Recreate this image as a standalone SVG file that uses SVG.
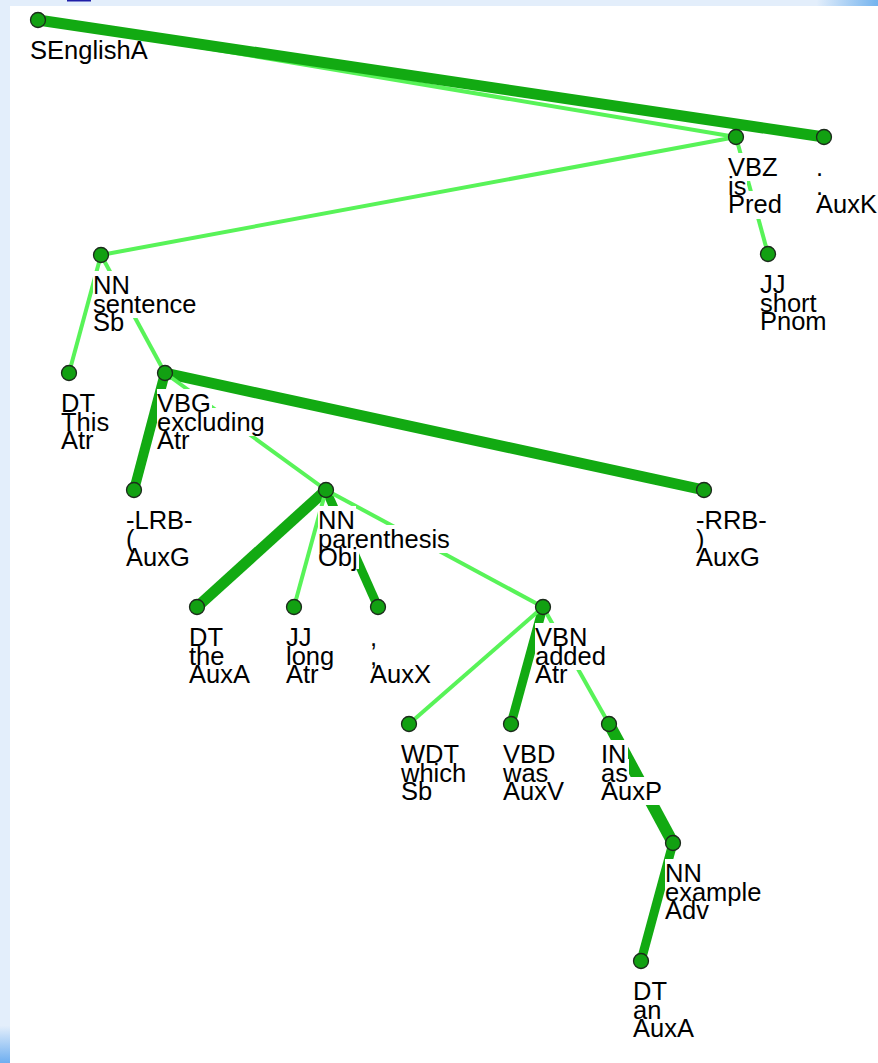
<svg xmlns="http://www.w3.org/2000/svg" width="878" height="1063" viewBox="0 0 878 1063">
  <defs>
    <linearGradient id="topFade" x1="0" y1="0" x2="1" y2="0">
      <stop offset="0" stop-color="#e3eefb"/>
      <stop offset="0.93" stop-color="#e3eefb"/>
      <stop offset="1" stop-color="#74b3ee"/>
    </linearGradient>
    <linearGradient id="leftFade" x1="0" y1="0" x2="0" y2="1">
      <stop offset="0" stop-color="#e3eefb"/>
      <stop offset="0.965" stop-color="#e3eefb"/>
      <stop offset="1" stop-color="#6eaef0"/>
    </linearGradient>
    <style>
      .light { stroke: #58f358; stroke-width: 4; fill: none; }
      .dark { stroke: #12aa12; fill: none; }
      .node circle { fill: #12a012; stroke: #1c2a1c; stroke-width: 1.3; }
      .node rect { fill: #ffffff; }
      .node text { font-family: "Liberation Sans", Arial, sans-serif; font-size: 25.5px; fill: #000000; }
    </style>
  </defs>

  <!-- window frame -->
  <rect x="0" y="0" width="878" height="1063" fill="#ffffff"/>
  <rect x="0" y="0" width="878" height="6" fill="url(#topFade)"/>
  <rect x="0" y="0" width="10" height="1063" fill="url(#leftFade)"/>
  <rect x="67" y="0" width="24" height="1.5" fill="#1e1ea8"/>

  <!-- dependency edges -->
  <g id="edges">
    <line class="light" x1="38" y1="20" x2="736" y2="137"/>
    <line class="dark" x1="38" y1="20" x2="824" y2="137" stroke-width="11"/>
    <line class="dark" x1="165" y1="373" x2="134" y2="490" stroke-width="10"/>
    <line class="dark" x1="165" y1="373" x2="704" y2="490" stroke-width="11"/>
    <line class="dark" x1="326" y1="490" x2="197" y2="607" stroke-width="11"/>
    <line class="dark" x1="326" y1="490" x2="378" y2="607" stroke-width="9"/>
    <line class="dark" x1="543" y1="607" x2="511" y2="724" stroke-width="9"/>
    <line class="dark" x1="609" y1="724" x2="673" y2="843" stroke-width="12"/>
    <line class="dark" x1="673" y1="843" x2="641" y2="961" stroke-width="9"/>

    <line class="light" x1="736" y1="137" x2="101" y2="255"/>
    <line class="light" x1="736" y1="137" x2="768" y2="254"/>
    <line class="light" x1="101" y1="255" x2="69" y2="373"/>
    <line class="light" x1="101" y1="255" x2="165" y2="373"/>
    <line class="light" x1="165" y1="373" x2="326" y2="490"/>
    <line class="light" x1="326" y1="490" x2="294" y2="607"/>
    <line class="light" x1="326" y1="490" x2="543" y2="607"/>
    <line class="light" x1="543" y1="607" x2="409" y2="724"/>
    <line class="light" x1="543" y1="607" x2="609" y2="724"/>
  </g>

  <!-- nodes: circle + three-line label (tag / form / afun) on white line boxes -->
  <g id="n-root" class="node">
    <circle cx="38" cy="20" r="7.5"/>
    <text x="30" y="59">SEnglishA</text>
  </g>

  <g id="n-is" class="node">
    <rect x="728" y="153" width="51" height="28"/>
    <rect x="728" y="172" width="19" height="28"/>
    <rect x="728" y="191" width="55" height="28"/>
    <circle cx="736" cy="137" r="7.5"/>
    <text x="728" y="176">VBZ</text>
    <text x="728" y="194.5">is</text>
    <text x="728" y="213">Pred</text>
  </g>

  <g id="n-period" class="node">
    <rect x="816" y="153" width="8" height="28"/>
    <rect x="816" y="172" width="8" height="28"/>
    <rect x="816" y="191" width="62" height="28"/>
    <circle cx="824" cy="137" r="7.5"/>
    <text x="816" y="176">.</text>
    <text x="816" y="194.5">.</text>
    <text x="816" y="213">AuxK</text>
  </g>

  <g id="n-short" class="node">
    <rect x="760" y="270" width="27" height="28"/>
    <rect x="760" y="289" width="58" height="28"/>
    <rect x="760" y="308" width="68" height="28"/>
    <circle cx="768" cy="254" r="7.5"/>
    <text x="760" y="293">JJ</text>
    <text x="760" y="311.5">short</text>
    <text x="760" y="330">Pnom</text>
  </g>

  <g id="n-sentence" class="node">
    <rect x="93" y="271" width="38" height="28"/>
    <rect x="93" y="290" width="105" height="28"/>
    <rect x="93" y="308" width="33" height="28"/>
    <circle cx="101" cy="255" r="7.5"/>
    <text x="93" y="294">NN</text>
    <text x="93" y="312.5">sentence</text>
    <text x="93" y="331">Sb</text>
  </g>

  <g id="n-this" class="node">
    <rect x="61" y="389" width="35" height="28"/>
    <rect x="61" y="408" width="49" height="28"/>
    <rect x="61" y="426" width="34" height="28"/>
    <circle cx="69" cy="373" r="7.5"/>
    <text x="61" y="412">DT</text>
    <text x="61" y="430.5">This</text>
    <text x="61" y="449">Atr</text>
  </g>

  <g id="n-excluding" class="node">
    <rect x="157" y="389" width="55" height="28"/>
    <rect x="157" y="408" width="109" height="28"/>
    <rect x="157" y="426" width="34" height="28"/>
    <circle cx="165" cy="373" r="7.5"/>
    <text x="157" y="412">VBG</text>
    <text x="157" y="430.5">excluding</text>
    <text x="157" y="449">Atr</text>
  </g>

  <g id="n-lrb" class="node">
    <rect x="126" y="506" width="68" height="28"/>
    <rect x="126" y="525" width="9" height="28"/>
    <rect x="126" y="543" width="65" height="28"/>
    <circle cx="134" cy="490" r="7.5"/>
    <text x="126" y="529">-LRB-</text>
    <text x="126" y="547.5">(</text>
    <text x="126" y="566">AuxG</text>
  </g>

  <g id="n-rrb" class="node">
    <rect x="696" y="506" width="72" height="28"/>
    <rect x="696" y="525" width="9" height="28"/>
    <rect x="696" y="543" width="65" height="28"/>
    <circle cx="704" cy="490" r="7.5"/>
    <text x="696" y="529">-RRB-</text>
    <text x="696" y="547.5">)</text>
    <text x="696" y="566">AuxG</text>
  </g>

  <g id="n-parenthesis" class="node">
    <rect x="318" y="506" width="38" height="28"/>
    <rect x="318" y="525" width="133" height="28"/>
    <rect x="318" y="543" width="41" height="26"/>
    <circle cx="326" cy="490" r="7.5"/>
    <text x="318" y="529">NN</text>
    <text x="318" y="547.5">parenthesis</text>
    <text x="318" y="566">Obj</text>
  </g>

  <g id="n-the" class="node">
    <rect x="189" y="623" width="35" height="28"/>
    <rect x="189" y="642" width="37" height="28"/>
    <rect x="189" y="660" width="62" height="28"/>
    <circle cx="197" cy="607" r="7.5"/>
    <text x="189" y="646">DT</text>
    <text x="189" y="664.5">the</text>
    <text x="189" y="683">AuxA</text>
  </g>

  <g id="n-long" class="node">
    <rect x="286" y="623" width="27" height="28"/>
    <rect x="286" y="642" width="49" height="28"/>
    <rect x="286" y="660" width="34" height="28"/>
    <circle cx="294" cy="607" r="7.5"/>
    <text x="286" y="646">JJ</text>
    <text x="286" y="664.5">long</text>
    <text x="286" y="683">Atr</text>
  </g>

  <g id="n-comma" class="node">
    <rect x="370" y="623" width="8" height="28"/>
    <rect x="370" y="642" width="8" height="28"/>
    <rect x="370" y="660" width="62" height="28"/>
    <circle cx="378" cy="607" r="7.5"/>
    <text x="370" y="646">,</text>
    <text x="370" y="664.5">,</text>
    <text x="370" y="683">AuxX</text>
  </g>

  <g id="n-added" class="node">
    <rect x="535" y="623" width="53" height="28"/>
    <rect x="535" y="642" width="72" height="28"/>
    <rect x="535" y="660" width="34" height="28"/>
    <circle cx="543" cy="607" r="7.5"/>
    <text x="535" y="646">VBN</text>
    <text x="535" y="664.5">added</text>
    <text x="535" y="683">Atr</text>
  </g>

  <g id="n-which" class="node">
    <rect x="401" y="740" width="59" height="28"/>
    <rect x="401" y="759" width="66" height="28"/>
    <rect x="401" y="777" width="33" height="28"/>
    <circle cx="409" cy="724" r="7.5"/>
    <text x="401" y="763">WDT</text>
    <text x="401" y="781.5">which</text>
    <text x="401" y="800">Sb</text>
  </g>

  <g id="n-was" class="node">
    <rect x="503" y="740" width="53" height="28"/>
    <rect x="503" y="759" width="46" height="28"/>
    <rect x="503" y="777" width="62" height="28"/>
    <circle cx="511" cy="724" r="7.5"/>
    <text x="503" y="763">VBD</text>
    <text x="503" y="781.5">was</text>
    <text x="503" y="800">AuxV</text>
  </g>

  <g id="n-as" class="node">
    <rect x="601" y="740" width="27" height="28"/>
    <rect x="601" y="759" width="28" height="28"/>
    <rect x="601" y="777" width="62" height="28"/>
    <circle cx="609" cy="724" r="7.5"/>
    <text x="601" y="763">IN</text>
    <text x="601" y="781.5">as</text>
    <text x="601" y="800">AuxP</text>
  </g>

  <g id="n-example" class="node">
    <rect x="665" y="859" width="38" height="28"/>
    <rect x="665" y="878" width="98" height="28"/>
    <rect x="665" y="896" width="45" height="28"/>
    <circle cx="673" cy="843" r="7.5"/>
    <text x="665" y="882">NN</text>
    <text x="665" y="900.5">example</text>
    <text x="665" y="919">Adv</text>
  </g>

  <g id="n-an" class="node">
    <rect x="633" y="977" width="35" height="28"/>
    <rect x="633" y="996" width="30" height="28"/>
    <rect x="633" y="1014" width="62" height="28"/>
    <circle cx="641" cy="961" r="7.5"/>
    <text x="633" y="1000">DT</text>
    <text x="633" y="1018.5">an</text>
    <text x="633" y="1037">AuxA</text>
  </g>
</svg>
